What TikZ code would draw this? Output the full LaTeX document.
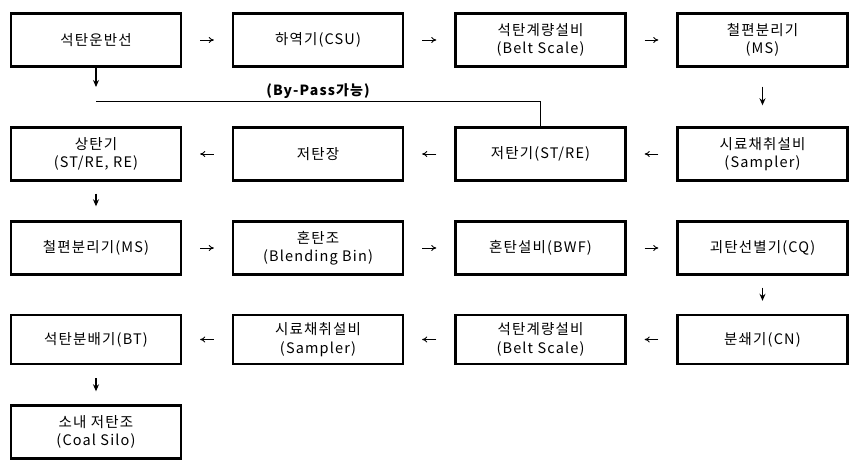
\documentclass[tikz,border=0pt]{standalone}
\usepackage{fontspec}
\setmainfont{Noto Sans CJK KR}[LetterSpace=8]
\usetikzlibrary{arrows.meta}
\begin{document}
\begin{tikzpicture}[x=1pt, y=-1pt, line join=miter,
    stage/.style={draw, line width=2.4pt, minimum width=170pt, minimum height=53pt,
      align=center, inner sep=0pt, font=\fontsize{14.5}{18.5}\selectfont},
    flow/.style={-{To[length=5pt,width=6pt]}, line width=0.9pt, shorten <=18pt, shorten >=18pt},
    down/.style={-{Stealth[length=7pt,width=6pt]}, line width=1.8pt}]
     \useasboundingbox (0,0) rectangle (857,473);
     % row 1
     \node[stage] (ship)   at (96,40)    {석탄운반선};
     \node[stage] (csu)    at (318,40)   {하역기(CSU)};
     \node[stage] (belta)  at (540.5,40) {석탄계량설비\\(Belt Scale)};
     \node[stage] (msa)    at (762.5,40) {철편분리기\\(MS)};
     % row 2
     \node[stage] (stre)   at (96,154)    {상탄기\\(ST/RE, RE)};
     \node[stage] (yard)   at (318,154)   {저탄장};
     \node[stage] (stacker) at (540.5,154) {저탄기(ST/RE)};
     \node[stage] (sampa)  at (762.5,154) {시료채취설비\\(Sampler)};
     % row 3
     \node[stage] (msb)    at (96,248)    {철편분리기(MS)};
     \node[stage] (bin)    at (318,248)   {혼탄조\\(Blending Bin)};
     \node[stage] (bwf)    at (540.5,248) {혼탄설비(BWF)};
     \node[stage] (cq)     at (762.5,248) {괴탄선별기(CQ)};
     % row 4
     \node[stage, minimum height=49pt] (bt)    at (96,339.5)    {석탄분배기(BT)};
     \node[stage, minimum height=49pt] (sampb) at (318,339.5)   {시료채취설비\\(Sampler)};
     \node[stage, minimum height=49pt] (beltb) at (540.5,339.5) {석탄계량설비\\(Belt Scale)};
     \node[stage, minimum height=49pt] (cn)    at (762.5,339.5) {분쇄기(CN)};
     % row 5
     \node[stage] (silo)   at (96,432) {소내 저탄조\\(Coal Silo)};

     \draw[flow] (ship) -- (csu);
     \draw[flow] (csu) -- (belta);
     \draw[flow] (belta) -- (msa);
     \draw[down, shorten <=19pt, shorten >=21pt] (msa) -- (sampa);
     \draw[flow] (sampa) -- (stacker);
     \draw[flow] (stacker) -- (yard);
     \draw[flow] (yard) -- (stre);
     \draw[down, shorten <=12pt, shorten >=14pt] (stre) -- (msb);
     \draw[flow] (msb) -- (bin);
     \draw[flow] (bin) -- (bwf);
     \draw[flow] (bwf) -- (cq);
     \draw[down, shorten <=12pt, shorten >=13pt] (cq) -- (cn);
     \draw[flow] (cn) -- (beltb);
     \draw[flow] (beltb) -- (sampb);
     \draw[flow] (sampb) -- (bt);
     \draw[down, shorten <=13pt, shorten >=13pt] (bt) -- (silo);

     % by-pass
     \coordinate (drop) at (96,87);
     \coordinate (bp) at (96,101.7);
     \draw[down] (ship) -- (drop);
     \draw[line width=1.6pt] (bp) -| (stacker.north);
     \node[font=\bfseries\fontsize{14}{16}\selectfont] (bplabel) at (318,91) {(By-Pass가능)};
   \end{tikzpicture}
\end{document}
